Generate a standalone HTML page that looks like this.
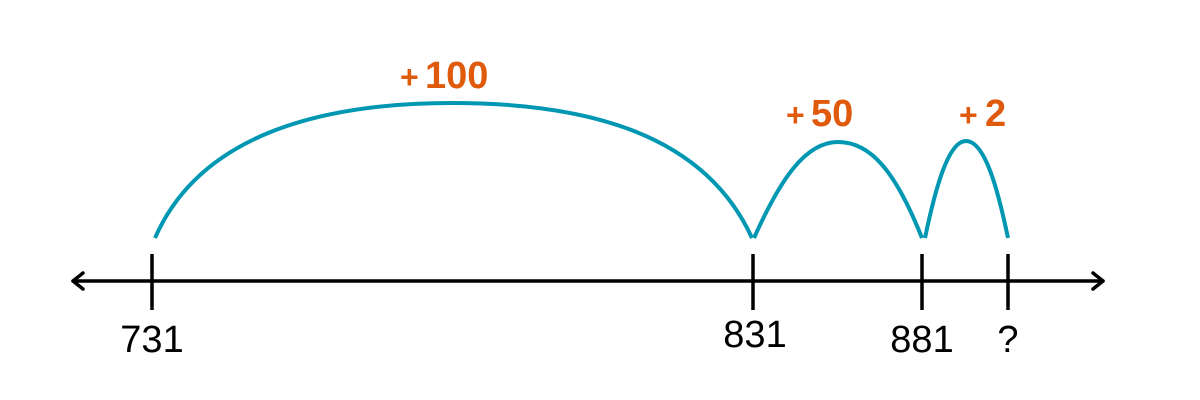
<!DOCTYPE html>
<html><head><style>
html,body{margin:0;padding:0;background:#fff;width:1200px;height:400px;overflow:hidden}
</style></head><body>
<svg width="1200" height="400" viewBox="0 0 1200 400" xmlns="http://www.w3.org/2000/svg">
<g stroke="#000" stroke-width="3.5" fill="none" stroke-linecap="round" stroke-linejoin="round">
<line x1="73" y1="281" x2="1103" y2="281"/>
<polyline points="83,273 73,281 83,289"/>
<polyline points="1093,273 1103,281 1093,289"/>
<line x1="152" y1="254" x2="152" y2="310" stroke-linecap="butt"/>
<line x1="753" y1="254" x2="753" y2="310" stroke-linecap="butt"/>
<line x1="922" y1="254" x2="922" y2="310" stroke-linecap="butt"/>
<line x1="1008" y1="254" x2="1008" y2="310" stroke-linecap="butt"/>
</g>
<g stroke="#0097b2" stroke-width="4" fill="none">
<path d="M155 238 C200 135 320 103 452 103 C590 103 705 135 752 238"/>
<path d="M754 238 C780 180 805 142 838 142 C870 142 895 170 922 238"/>
<path d="M925 238 C935 190 948 141 966 141 C985 141 998 190 1008 238"/>
</g>
<g font-family="Liberation Sans, sans-serif" font-size="38" fill="#000" text-anchor="middle">
<text x="152" y="352">731</text>
<text x="755" y="347">831</text>
<text x="922" y="352">881</text>
<text x="1008" y="352">?</text>
</g>
<g font-family="Liberation Sans, sans-serif" font-weight="bold" fill="#e05a0c">
<text x="400" y="88" font-size="32">+</text><text x="425" y="88" font-size="38">100</text>
<text x="786" y="126" font-size="32">+</text><text x="811" y="126" font-size="38">50</text>
<text x="959" y="126" font-size="32">+</text><text x="985" y="126" font-size="38">2</text>
</g>
</svg>
</body></html>
